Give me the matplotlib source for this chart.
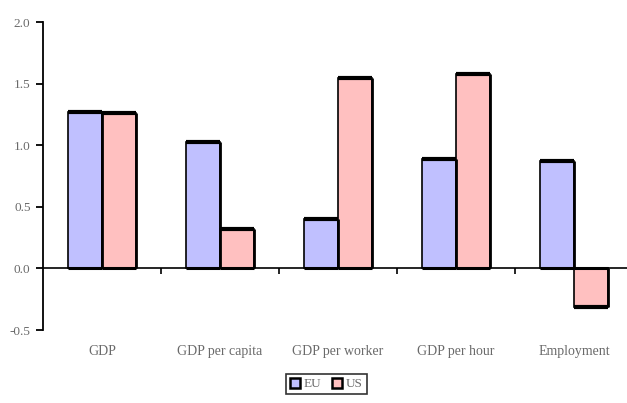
import numpy as np
import matplotlib
matplotlib.use("Agg")
import matplotlib.pyplot as plt
from matplotlib.transforms import blended_transform_factory

categories = ["GDP", "GDP per capita", "GDP per worker", "GDP per hour", "Employment"]
eu_values = [1.27, 1.03, 0.40, 0.89, 0.87]
us_values = [1.26, 0.32, 1.55, 1.58, -0.31]
yticks = [-0.5, 0.0, 0.5, 1.0, 1.5, 2.0]

plt.rcParams["font.family"] = ["Liberation Serif", "DejaVu Serif"]
text_grey = "#6a6a6a"

fig = plt.figure(figsize=(6.27, 4.03), dpi=100)
ax = fig.add_axes([0.0686, 0.181, 0.941, 0.764])

x = np.arange(len(categories))
w = 0.29
eu_bars = ax.bar(x - w / 2, eu_values, w, color="#c0c0ff", edgecolor="black", linewidth=1.2, label="EU")
us_bars = ax.bar(x + w / 2, us_values, w, color="#ffc0c0", edgecolor="black", linewidth=1.2, label="US")

# thick outer edge (top/bottom) and slightly thick right side, like the original's shadow
for bars in (eu_bars, us_bars):
    for b in bars:
        x0, x1 = b.get_x(), b.get_x() + b.get_width()
        end = b.get_y() + b.get_height()
        ax.plot([x1, x1], [end, 0], color="black", lw=2.0, solid_capstyle="butt", zorder=3)
        ax.plot([x0, x1], [end, end], color="black", lw=3.0, solid_capstyle="butt", zorder=3)
        ax.plot([x0, x1], [0, 0], color="black", lw=2.2, solid_capstyle="butt", zorder=3)

ax.set_xlim(-0.5, len(categories) - 0.5)
ax.set_ylim(-0.5, 2.0)
ax.set_yticks(yticks)
ax.set_yticklabels([f"{v:.1f}" for v in yticks], color=text_grey, fontsize=9.5)

for s in ("top", "right"):
    ax.spines[s].set_visible(False)
ax.spines["bottom"].set_position(("data", 0))
ax.spines["left"].set_linewidth(1.3)
ax.spines["bottom"].set_linewidth(1.2)
ax.tick_params(axis="y", direction="out", length=5, width=1.3, pad=4)
ax.set_xticks(np.arange(0.5, len(categories) - 0.5, 1.0))
ax.set_xticklabels([])
ax.tick_params(axis="x", direction="out", length=4, width=1.2)

trans = blended_transform_factory(ax.transData, ax.transAxes)
for xi, name in zip(x, categories):
    ax.text(xi, -0.07, name, transform=trans, ha="center", va="center",
            color=text_grey, fontsize=10)

leg = ax.legend(loc="center", bbox_to_anchor=(0.48, -0.175), ncol=2, fontsize=9.5,
                frameon=True, fancybox=False, handlelength=0.8, handleheight=0.8,
                handletextpad=0.25, columnspacing=0.8, borderpad=0.3, borderaxespad=0)
leg.get_frame().set_edgecolor("black")
leg.get_frame().set_linewidth(1.2)
for h in leg.legend_handles:
    h.set_linewidth(1.8)
for t in leg.get_texts():
    t.set_color(text_grey)

fig.savefig("out.png", dpi=100)
